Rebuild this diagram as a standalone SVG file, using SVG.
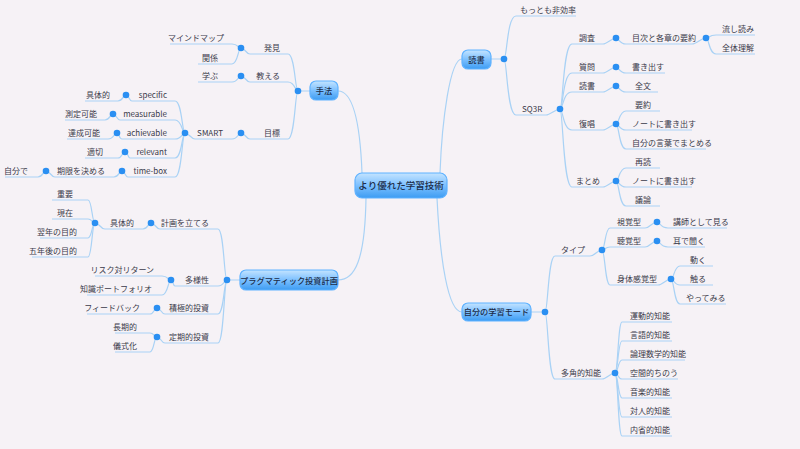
<svg xmlns="http://www.w3.org/2000/svg" width="800" height="449" viewBox="0 0 800 449">
<defs>
<linearGradient id="g" x1="0" y1="0" x2="0" y2="1"><stop offset="0" stop-color="#c4e4ff"/><stop offset="0.5" stop-color="#7cc0ff"/><stop offset="1" stop-color="#3d9cf2"/></linearGradient>
<style>
text{font-family:"Noto Sans CJK JP","Liberation Sans",sans-serif;font-size:8px;fill:#3a3a4a}
.r{text-anchor:start}.l{text-anchor:end}
.b rect{fill:url(#g);stroke:#5fb2ff;stroke-width:1.2}
.b text{text-anchor:middle;font-weight:500;fill:#1c2c48;font-size:8.2px}
#center text{font-size:9.5px}
#edges path{fill:none;stroke:#a9d2f5;stroke-width:1.2}
#dots circle{fill:#2a8ff2}
</style>
</defs>
<rect width="800" height="449" fill="#f6f2f6"/>
<g id="edges">
<path d="M338 91 C352 91 360 120 362 173"/>
<path d="M462 59 C450 59 442 120 440 173"/>
<path d="M338 280 C355 280 365 260 366 198"/>
<path d="M462 312 C448 312 440 260 437 198"/>
<path d="M310 91 H298 M491 59 H504 M240 280 H227 M531 312 H545"/>
<path d="M504 59 C507 59 507 16 516 16 H576"/>
<path d="M504 59 C507 59 507 115 516 115 H546 C550 115 556 109 560 109"/>
<path d="M560 109 C563 109 563 44 572 44 H603 C607 44 612 38 616 38"/>
<path d="M560 109 C563 109 563 73 572 73 H603 C607 73 612 67 616 67"/>
<path d="M560 109 C563 109 563 92 572 92 H603 C607 92 612 86 616 86"/>
<path d="M560 109 C563 109 563 130 572 130 H603 C607 130 612 124 616 124"/>
<path d="M560 109 C563 109 563 187 572 187 H603 C607 187 612 181 616 181"/>
<path d="M616 38 C619 38 619 44 626 44 H692 C697 44 701 38 706 38"/>
<path d="M706 38 C709 38 709 35 716 35 H755"/>
<path d="M706 38 C709 38 709 54 716 54 H755"/>
<path d="M616 67 C619 67 619 73 626 73 H665"/>
<path d="M616 86 C619 86 619 92 626 92 H658"/>
<path d="M616 124 C619 124 619 111 626 111 H660"/>
<path d="M616 124 C619 124 619 130 626 130 H692"/>
<path d="M616 124 C619 124 619 149 626 149 H706"/>
<path d="M616 181 C619 181 619 168 626 168 H660"/>
<path d="M616 181 C619 181 619 187 626 187 H692"/>
<path d="M616 181 C619 181 619 206 626 206 H660"/>
<path d="M298 91 C295 91 295 54 288 54 H250 C246 54 245 48 241 48"/>
<path d="M298 91 C295 91 295 82 288 82 H250 C246 82 245 76 241 76"/>
<path d="M298 91 C295 91 295 139 288 139 H250 C246 139 245 133 241 133"/>
<path d="M241 48 C238 48 238 44 232 44 H170"/>
<path d="M241 48 C238 48 238 64 232 64 H198"/>
<path d="M241 76 C238 76 238 82 232 82 H198"/>
<path d="M241 133 C238 133 238 139 232 139 H195 C191 139 189 133 185 133"/>
<path d="M185 133 C182 133 182 101 175 101 H132 C129 101 129 95 126 95"/>
<path d="M185 133 C182 133 182 120 175 120 H120 C117 120 116 114 113 114"/>
<path d="M185 133 C182 133 182 139 175 139 H122 C119 139 119 133 117 133"/>
<path d="M185 133 C182 133 182 158 175 158 H130 C128 158 128 152 125 152"/>
<path d="M185 133 C182 133 182 177 175 177 H128 C125 177 125 171 122 171"/>
<path d="M126 95 C123 95 123 101 118 101 H85"/>
<path d="M113 114 C110 114 110 120 105 120 H65"/>
<path d="M117 133 C114 133 114 139 108 139 H67"/>
<path d="M125 152 C122 152 122 158 118 158 H85"/>
<path d="M122 171 C119 171 119 177 114 177 H55 C51 177 50 171 46 171"/>
<path d="M46 171 C43 171 43 177 38 177 H5"/>
<path d="M227 280 C224 280 224 229 218 229 H160 C156 229 155 223 151 223"/>
<path d="M227 280 C224 280 224 286 218 286 H175 C173 286 173 280 171 280"/>
<path d="M227 280 C224 280 224 314 218 314 H165 C161 314 161 308 157 308"/>
<path d="M227 280 C224 280 224 343 218 343 H165 C161 343 161 337 157 337"/>
<path d="M151 223 C148 223 148 229 143 229 H105 C100 229 100 223 95 223"/>
<path d="M95 223 C92 223 92 200 88 200 H52"/>
<path d="M95 223 C92 223 92 219 88 219 H52"/>
<path d="M95 223 C92 223 92 238 88 238 H40"/>
<path d="M95 223 C92 223 92 257 88 257 H32"/>
<path d="M171 280 C168 280 168 276 162 276 H95"/>
<path d="M171 280 C168 280 168 295 162 295 H87"/>
<path d="M157 308 C154 308 154 314 150 314 H87"/>
<path d="M157 337 C154 337 154 333 150 333 H115"/>
<path d="M157 337 C154 337 154 352 150 352 H115"/>
<path d="M545 312 C548 312 548 256 555 256 H590 C595 256 597 250 602 250"/>
<path d="M545 312 C548 312 548 379 555 379 H602 C607 379 610 373 615 373"/>
<path d="M602 250 C605 250 605 228 610 228 H645 C650 228 652 222 657 222"/>
<path d="M602 250 C605 250 605 247 610 247 H645 C650 247 652 241 657 241"/>
<path d="M602 250 C605 250 605 285 610 285 H658 C663 285 666 279 671 279"/>
<path d="M657 222 C660 222 660 228 668 228 H727"/>
<path d="M657 241 C660 241 660 247 668 247 H705"/>
<path d="M671 279 C674 279 674 266 680 266 H713"/>
<path d="M671 279 C674 279 674 285 680 285 H713"/>
<path d="M671 279 C674 279 674 304 680 304 H726"/>
<path d="M615 373 C618 373 618 322 622 322 H672"/>
<path d="M615 373 C618 373 618 341 622 341 H672"/>
<path d="M615 373 C618 373 618 360 622 360 H685"/>
<path d="M615 373 C618 373 618 379 622 379 H678"/>
<path d="M615 373 C618 373 618 398 622 398 H672"/>
<path d="M615 373 C618 373 618 417 622 417 H672"/>
<path d="M615 373 C618 373 618 436 622 436 H672"/>
</g>
<g id="dots">
<circle cx="298" cy="91" r="3.3"/><circle cx="504" cy="59" r="3.3"/><circle cx="227" cy="280" r="3.3"/><circle cx="545" cy="312" r="3.3"/>
<circle cx="560" cy="109" r="3.3"/><circle cx="616" cy="38" r="3.3"/><circle cx="616" cy="67" r="3.3"/><circle cx="616" cy="86" r="3.3"/><circle cx="616" cy="124" r="3.3"/><circle cx="616" cy="181" r="3.3"/><circle cx="706" cy="38" r="3.3"/>
<circle cx="241" cy="48" r="3.3"/><circle cx="241" cy="76" r="3.3"/><circle cx="241" cy="133" r="3.3"/><circle cx="185" cy="133" r="3.3"/>
<circle cx="126" cy="95" r="3.3"/><circle cx="113" cy="114" r="3.3"/><circle cx="117" cy="133" r="3.3"/><circle cx="125" cy="152" r="3.3"/><circle cx="122" cy="171" r="3.3"/><circle cx="46" cy="171" r="3.3"/>
<circle cx="151" cy="223" r="3.3"/><circle cx="95" cy="223" r="3.3"/><circle cx="171" cy="280" r="3.3"/><circle cx="157" cy="308" r="3.3"/><circle cx="157" cy="337" r="3.3"/>
<circle cx="602" cy="250" r="3.3"/><circle cx="615" cy="373" r="3.3"/><circle cx="657" cy="222" r="3.3"/><circle cx="657" cy="241" r="3.3"/><circle cx="671" cy="279" r="3.3"/>
</g>
<g id="center" class="b"><rect x="355" y="173" width="92" height="25" rx="7"/><text x="401" y="189">より優れた学習技術</text></g>
<g id="shuhou" class="b"><rect x="310" y="81" width="28" height="19" rx="6"/><text x="324" y="94">手法</text></g>
<g id="dokusho" class="b"><rect x="462" y="50" width="29" height="19" rx="6"/><text x="476.5" y="63">読書</text></g>
<g id="pragmatic" class="b"><rect x="240" y="270" width="98" height="20" rx="6"/><text x="289" y="283.5">プラグマティック投資計画</text></g>
<g id="mode" class="b"><rect x="462" y="303" width="69" height="18" rx="6"/><text x="496.5" y="315">自分の学習モード</text></g>
<g id="labels-right">
<text class="r" x="520" y="13">もっとも非効率</text>
<text class="r" x="522" y="112">SQ3R</text>
<text class="r" x="579" y="41">調査</text><text class="r" x="579" y="70">質問</text><text class="r" x="579" y="89">読書</text><text class="r" x="579" y="127">復唱</text><text class="r" x="576" y="184">まとめ</text>
<text class="r" x="632" y="41">目次と各章の要約</text>
<text class="r" x="722" y="32">流し読み</text><text class="r" x="722" y="51">全体理解</text>
<text class="r" x="632" y="70">書き出す</text><text class="r" x="635" y="89">全文</text>
<text class="r" x="635" y="108">要約</text><text class="r" x="632" y="127">ノートに書き出す</text><text class="r" x="632" y="146">自分の言葉でまとめる</text>
<text class="r" x="635" y="165">再読</text><text class="r" x="632" y="184">ノートに書き出す</text><text class="r" x="635" y="203">議論</text>
<text class="r" x="561" y="253">タイプ</text><text class="r" x="561" y="376">多角的知能</text>
<text class="r" x="617" y="225">視覚型</text><text class="r" x="617" y="244">聴覚型</text><text class="r" x="617" y="282">身体感覚型</text>
<text class="r" x="673" y="225">講師として見る</text><text class="r" x="673" y="244">耳で聞く</text>
<text class="r" x="690" y="263">動く</text><text class="r" x="690" y="282">触る</text><text class="r" x="686" y="301">やってみる</text>
<text class="r" x="630" y="319">運動的知能</text><text class="r" x="630" y="338">言語的知能</text><text class="r" x="630" y="357">論理数学的知能</text><text class="r" x="630" y="376">空間的ちのう</text><text class="r" x="630" y="395">音楽的知能</text><text class="r" x="630" y="414">対人的知能</text><text class="r" x="630" y="433">内省的知能</text>
</g>
<g id="labels-left">
<text class="l" x="280" y="51">発見</text><text class="l" x="280" y="79">教える</text><text class="l" x="280" y="136">目標</text>
<text class="l" x="224" y="41">マインドマップ</text><text class="l" x="218" y="61">関係</text><text class="l" x="218" y="79">学ぶ</text><text class="l" x="223" y="136">SMART</text>
<text class="l" x="167" y="98">specific</text><text class="l" x="167" y="117">measurable</text><text class="l" x="167" y="136">achievable</text><text class="l" x="167" y="155">relevant</text><text class="l" x="167" y="174">time-box</text>
<text class="l" x="110" y="98">具体的</text><text class="l" x="97" y="117">測定可能</text><text class="l" x="100" y="136">達成可能</text><text class="l" x="103" y="155">適切</text><text class="l" x="105" y="174">期限を決める</text><text class="l" x="28" y="174">自分で</text>
<text class="l" x="209" y="226">計画を立てる</text><text class="l" x="209" y="283">多様性</text><text class="l" x="209" y="311">積極的投資</text><text class="l" x="209" y="340">定期的投資</text>
<text class="l" x="134" y="226">具体的</text>
<text class="l" x="73" y="197">重要</text><text class="l" x="73" y="216">現在</text><text class="l" x="77" y="235">翌年の目的</text><text class="l" x="77" y="254">五年後の目的</text>
<text class="l" x="154" y="273">リスク対リターン</text><text class="l" x="152" y="292">知識ポートフォリオ</text><text class="l" x="140" y="311">フィードバック</text>
<text class="l" x="137" y="330">長期的</text><text class="l" x="137" y="349">儀式化</text>
</g>
</svg>
